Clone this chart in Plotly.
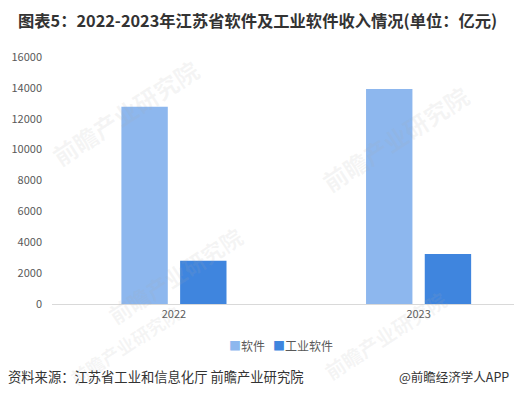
import plotly.graph_objects as go

categories = ["2022", "2023"]
software = [12780, 13930]
industrial_software = [2800, 3240]
series_names = ["软件", "工业软件"]
y_ticks = [0, 2000, 4000, 6000, 8000, 10000, 12000, 14000, 16000]
y_tick_labels = ["0", "2000", "4000", "6000", "8000", "10000", "12000", "14000", "16000"]
colors = ["#8DB7EE", "#3F85DE"]

title_text = "图表5：2022-2023年江苏省软件及工业软件收入情况(单位：亿元)"
source_text = "资料来源：江苏省工业和信息化厅 前瞻产业研究院"
brand_text = "@前瞻经济学人APP"
watermark_text = "前瞻产业研究院"

FONT = "Noto Sans CJK SC, Microsoft YaHei, sans-serif"

fig = go.Figure()
fig.add_trace(go.Bar(x=categories, y=software, name=series_names[0],
                     marker=dict(color=colors[0], line=dict(width=0))))
fig.add_trace(go.Bar(x=categories, y=industrial_software, name=series_names[1],
                     marker=dict(color=colors[1], line=dict(width=0))))

W, H = 514, 399
L, T, B = 52, 57, 95
PW, PH = W - L, H - T - B

def px(x):
    return (x - L) / PW

def py(y):
    return (H - B - y) / PH

fig.update_layout(
    width=W, height=H,
    margin=dict(l=L, r=0, t=T, b=B, autoexpand=False),
    paper_bgcolor="white", plot_bgcolor="white",
    barmode="group", bargap=0.52, bargroupgap=0.21,
    font=dict(family=FONT, size=11, color="#595959"),
    showlegend=False,
    xaxis=dict(type="category", range=[-0.4985, 1.39], showgrid=False, automargin=False,
               showline=True, linecolor="#D9D9D9", linewidth=1,
               ticks="", tickfont=dict(size=11, color="#595959"), fixedrange=True),
    yaxis=dict(range=[0, 16000], tickvals=y_ticks, ticktext=y_tick_labels,
               showgrid=False, zeroline=False, automargin=False,
               showline=False, ticks="", ticklabelstandoff=9,
               tickfont=dict(size=11, color="#595959"), fixedrange=True),
)

ann = []
# faint watermarks
for (wx, wy, ws) in [(125, 112, 24), (395, 138, 24), (175, 275, 22), (385, 335, 20), (125, 345, 18)]:
    ann.append(dict(text="<b>" + watermark_text + "</b>", xref="paper", yref="paper",
                    x=px(wx), y=py(wy), xanchor="center", yanchor="middle",
                    textangle=-33, showarrow=False,
                    font=dict(size=ws, color="rgba(170,170,170,0.12)", family=FONT)))
# title
ann.append(dict(text="<b>" + title_text + "</b>", xref="paper", yref="paper",
                x=px(16), y=py(20), xanchor="left", yanchor="middle",
                showarrow=False, font=dict(size=16.3, color="#333333", family=FONT)))
# legend
legend_html = ("<span style='color:%s'>■</span>%s   <span style='color:%s'>■</span>%s"
               % (colors[0], series_names[0], colors[1], series_names[1]))
ann.append(dict(text=legend_html, xref="paper", yref="paper",
                x=px(281), y=py(345), xanchor="center", yanchor="middle",
                showarrow=False, font=dict(size=12, color="#595959", family=FONT)))
# source
ann.append(dict(text=source_text, xref="paper", yref="paper",
                x=px(6), y=py(376), xanchor="left", yanchor="middle",
                showarrow=False, font=dict(size=13.3, color="#333333", family=FONT)))
ann.append(dict(text=brand_text, xref="paper", yref="paper",
                x=px(511), y=py(376), xanchor="right", yanchor="middle",
                showarrow=False, font=dict(size=12.5, color="#333333", family=FONT)))
fig.update_layout(annotations=ann)

fig.write_html("out.html", config={"displayModeBar": False},
               post_script="document.body.style.margin='0';document.body.style.overflow='hidden';")
